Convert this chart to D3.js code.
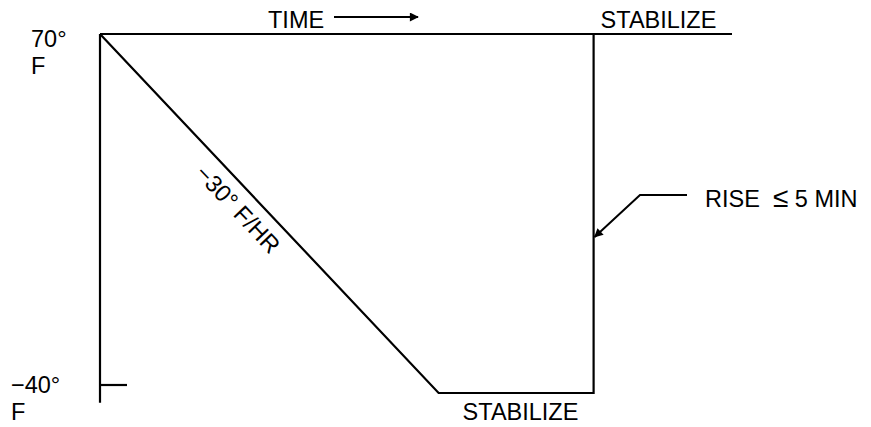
<!DOCTYPE html>
<html>
<head>
<meta charset="utf-8">
<script src="https://cdn.jsdelivr.net/npm/d3@7"></script>
<style>
  body { margin: 0; background: #fff; }
  text { font-family: "Liberation Sans", Arial, sans-serif; font-size: 23.5px; fill: #000; }
</style>
</head>
<body>
<svg class="canvas" width="871" height="427"></svg>
<script>
'use strict';

// Temperature profile: ramp down at 30 F/hr, stabilize, fast rise, stabilize.
const profileTimes = [0, 3.67, 5.35, 5.35, 6.85]; // hours
const profileTemps = [70, -40, -40, 70, 70]; // deg F
const topLineTimes = [0, 6.85];
const axisTemps = [70, -43];
const tickTemps = [-40];
const tickLabels = ['70°', '−40°'];
const unitLabel = 'F';
const rampLabel = '−30° F/HR';
const stabilizeLabel = 'STABILIZE';
const timeLabel = 'TIME';
const riseLabel = ['RISE  ', '≤', ' 5 MIN'];

const svg = d3.select('.canvas'),
  x = d3.scaleLinear().domain([0, 6.85]).range([100, 732]),
  y = d3.scaleLinear().domain([-40, 70]).range([393, 34]);

const line = d3.line().x(d => x(d[0])).y(d => y(d[1]));

// arrow head
svg.append('defs')
  .append('marker')
  .attr('id', 'head')
  .attr('viewBox', '0 0 10 10')
  .attr('refX', 9)
  .attr('refY', 5)
  .attr('markerWidth', 16)
  .attr('markerHeight', 9)
  .attr('markerUnits', 'userSpaceOnUse')
  .attr('orient', 'auto')
  .append('path')
  .attr('d', 'M0,0 L10,5 L0,10 Z')
  .attr('fill', '#000');

const stroke = g => g.attr('fill', 'none').attr('stroke', '#000').attr('stroke-width', 2.2);

// top line
svg.append('path')
  .datum(topLineTimes.map(t => [t, 70]))
  .attr('d', line)
  .call(stroke);

// profile
svg.append('path')
  .datum(profileTimes.map((t, i) => [t, profileTemps[i]]))
  .attr('d', line)
  .attr('stroke-linejoin', 'miter')
  .call(stroke);

// temperature axis
svg.append('line')
  .attr('x1', x(0)).attr('x2', x(0))
  .attr('y1', y(axisTemps[0])).attr('y2', y(axisTemps[1]))
  .call(stroke);
tickTemps.forEach(t => {
  svg.append('line')
    .attr('x1', x(0)).attr('x2', x(0) + 27)
    .attr('y1', y(t) - 8).attr('y2', y(t) - 8)
    .call(stroke);
});

// axis labels
[[70, 31, 47], [-40, 11, 393]].forEach(([t, lx, by], i) => {
  const dy = by - y(t);
  svg.append('text').attr('x', lx).attr('y', y(t) + dy).text(tickLabels[i]);
  svg.append('text').attr('x', lx).attr('y', y(t) + dy + 27).text(unitLabel);
});

// ramp label, along the diagonal
const p0 = [x(profileTimes[0]), y(profileTemps[0])],
  p1 = [x(profileTimes[1]), y(profileTemps[1])],
  angle = Math.atan2(p1[1] - p0[1], p1[0] - p0[0]) * 180 / Math.PI,
  f = 0.45,
  mid = [p0[0] + (p1[0] - p0[0]) * f, p0[1] + (p1[1] - p0[1]) * f];
svg.append('text')
  .attr('transform', `translate(${mid[0]},${mid[1]}) rotate(${angle})`)
  .attr('text-anchor', 'middle')
  .attr('y', 28)
  .text(rampLabel);

// stabilize labels
svg.append('text').attr('x', x(5.35) + 7).attr('y', y(70) - 6).text(stabilizeLabel);
svg.append('text').attr('x', x(3.67) + 24).attr('y', y(-40) + 27).text(stabilizeLabel);

// time label + arrow
svg.append('text').attr('x', 268).attr('y', y(70) - 6).text(timeLabel);
svg.append('line')
  .attr('x1', 334).attr('x2', 418)
  .attr('y1', 17).attr('y2', 17)
  .attr('stroke', '#000').attr('stroke-width', 2)
  .attr('marker-end', 'url(#head)');

// rise leader
svg.append('path')
  .attr('d', d3.line()([[687, 195], [640, 195], [x(5.35) + 1, 237]]))
  .attr('fill', 'none').attr('stroke', '#000').attr('stroke-width', 2)
  .attr('marker-end', 'url(#head)');
const rise = svg.append('text').attr('x', 705).attr('y', 207).attr('xml:space', 'preserve');
rise.selectAll('tspan')
  .data(riseLabel)
  .enter()
  .append('tspan')
  .style('font-size', d => (d === '≤' ? '28px' : null))
  .text(d => d);
</script>
</body>
</html>
